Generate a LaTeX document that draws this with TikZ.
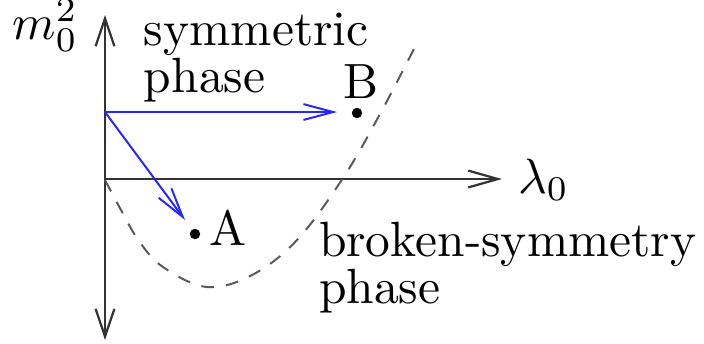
\documentclass[tikz,border=0pt]{standalone}
\usetikzlibrary{arrows.meta}
\begin{document}
\begin{tikzpicture}[x=0.202pt,y=-0.202pt,
  axis/.style={line width=0.45pt,draw=black!80,{Straight Barb[length=5.6pt,width=3.8pt]}-{Straight Barb[length=5.6pt,width=3.8pt]}},
  haxis/.style={line width=0.45pt,draw=black!80,-{Straight Barb[length=6pt,width=3.4pt]}},
  flow/.style={line width=0.4pt,draw=blue!85,-{Straight Barb[length=6pt,width=3.2pt]}},
  pt/.style={circle,fill=black,inner sep=0pt,minimum size=2.1pt},
  lbl/.style={inner sep=0pt,font=\fontsize{10}{9.4}\selectfont,align=left}]
\useasboundingbox (0,0) rectangle (704,343);
% axes
\coordinate (ytop) at (105,15);
\coordinate (ybot) at (105,340);
\coordinate (O) at (105,179);
\coordinate (xend) at (502,179);
\draw[axis] (ybot) -- (ytop);
\draw[haxis] (O) -- (xend);
\node[inner sep=0pt,anchor=base east] (mlab) at (79,39) {$m_0^2$};
\node[inner sep=0pt,anchor=base west] (llab) at (517,193) {$\lambda_0$};
% curve
\draw[black!65,line width=0.4pt,dash pattern=on 2.6pt off 2.4pt]
  plot[smooth,tension=0.6] coordinates {(105,180) (121,210) (139,241) (163,267) (207,287) (252,275) (297,240) (343,178) (380,114) (417,43)};
% points
\node[pt] (A) at (195,234) {};
\node[pt] (B) at (357,113) {};
\node[inner sep=0pt,anchor=base] (Alab) at (228,245) {A};
\node[inner sep=0pt,anchor=base] (Blab) at (361,98) {B};
% arrows
\coordinate (P) at (105,112);
\coordinate (toB) at (337,112);
\coordinate (toA) at (185,220);
\draw[flow] (P) -- (toB);
\draw[flow] (P) -- (toA);
% phase labels
\node[lbl,anchor=base west] (sym) at (143,92) {symmetric\\phase};
\node[lbl,anchor=base west] (brk) at (318,303) {broken-symmetry\\phase};
\end{tikzpicture}
\end{document}
